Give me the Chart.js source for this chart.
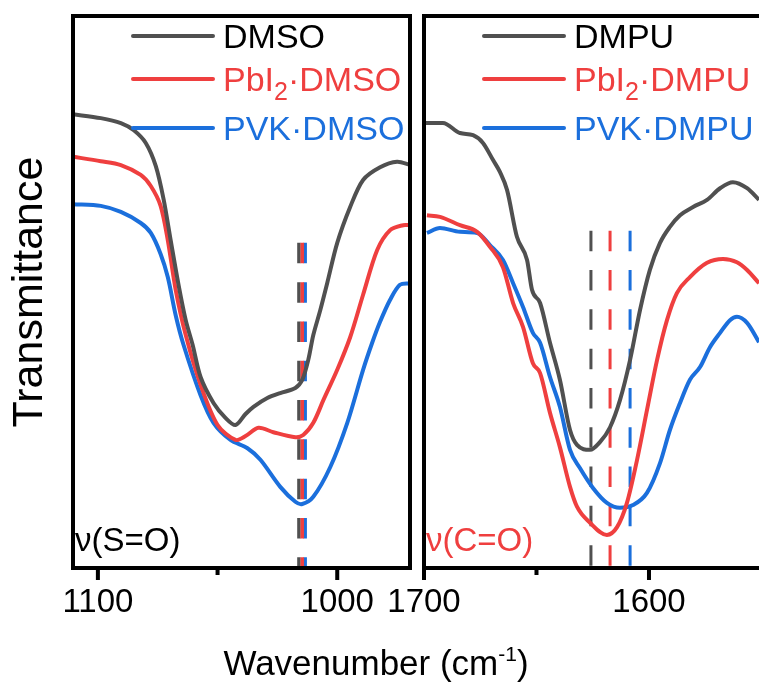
<!DOCTYPE html>
<html><head><meta charset="utf-8">
<script src="https://cdn.jsdelivr.net/npm/chart.js@4.4.1/dist/chart.umd.min.js"></script>
<style>
html,body{margin:0;padding:0;background:#fff;overflow:hidden;width:759px;height:684px;}
canvas{position:absolute;top:0;}
#c1{left:0;}
#c2{left:360px;}
#xt{position:absolute;left:0;width:752px;top:645px;text-align:center;font-family:"Liberation Sans",Arial,sans-serif;font-size:35px;line-height:35px;color:#000;white-space:nowrap;}
#xt span{font-size:21px;position:relative;top:-14px;}
</style></head><body>
<canvas id="c1" width="420" height="684" style="width:420px;height:684px"></canvas>
<canvas id="c2" width="399" height="684" style="width:399px;height:684px"></canvas>
<div id="xt">Wavenumber (cm<span>-1</span>)</div>
<script>
// ---------- data ----------
const dmsoX = [1110.4,1098.8,1090.4,1085.0,1080.0,1075.8,1072.5,1069.6,1066.3,1063.3,1060.4,1057.1,1051.7,1046.7,1042.5,1038.3,1035.0,1029.2,1023.8,1017.5,1014.6,1012.1,1010.0,1007.1,1004.2,1000.0,994.6,989.2,982.1,975.0,969.6];
const dmsoT = [82.2,81.5,80.6,79.3,77.0,72.8,66.7,59.4,51.3,44.9,40.4,34.6,29.9,27.2,25.9,27.9,29.2,30.8,31.7,32.6,34.1,37.7,42.2,46.7,51.6,58.9,65.4,70.3,72.6,73.6,73.0];
const pbi2DmsoX = [1110.4,1098.8,1090.4,1082.1,1077.9,1073.8,1070.8,1067.5,1063.3,1057.1,1050.0,1042.5,1038.3,1032.9,1026.7,1017.5,1014.2,1010.0,1005.8,1000.0,994.6,989.2,983.3,977.9,972.5,969.6];
const pbi2DmsoT = [74.5,73.7,73.0,71.2,69.2,65.6,59.4,50.4,42.2,33.2,25.9,23.2,23.9,25.4,24.6,23.7,24.1,26.3,30.4,35.9,41.8,49.5,57.6,61.2,62.1,62.1];
const pvkDmsoX = [1110.4,1098.8,1090.4,1082.1,1077.9,1073.8,1070.8,1067.5,1064.2,1057.1,1051.7,1044.6,1037.5,1032.1,1023.8,1017.5,1014.6,1010.0,1002.9,995.8,989.2,985.4,982.1,977.9,973.8,969.6];
const pvkDmsoT = [65.9,65.6,64.5,62.5,60.7,56.9,52.7,45.8,40.4,31.3,26.3,23.2,21.7,19.6,14.7,12.0,11.6,12.9,18.3,26.3,35.9,40.8,44.6,48.6,51.3,51.6];

const dmpuX = [1699.1,1691.6,1684.0,1678.2,1673.8,1669.3,1666.2,1663.1,1658.7,1654.2,1652.0,1648.4,1644.0,1639.6,1635.1,1632.0,1626.2,1621.8,1617.3,1612.9,1608.4,1604.0,1599.6,1595.1,1590.7,1586.2,1580.4,1574.2,1568.4,1562.7,1556.4,1551.1];
const dmpuT = [80.6,80.6,78.8,78.4,77.0,73.9,71.7,68.5,60.0,55.8,50.4,48.0,40.8,34.1,25.0,22.3,21.4,22.8,25.5,30.4,37.7,46.7,54.0,58.9,61.8,63.9,65.4,66.7,68.8,69.9,68.8,66.7];
const pbi2DmpuX = [1698.7,1692.9,1684.0,1676.4,1670.7,1664.9,1660.4,1656.0,1651.6,1648.4,1644.0,1639.6,1635.1,1632.0,1626.2,1618.7,1614.2,1609.8,1605.3,1600.9,1596.4,1592.0,1587.6,1581.8,1574.2,1567.1,1560.9,1556.4,1551.1];
const pbi2DmpuT = [63.9,63.6,62.1,60.9,58.2,54.5,48.0,43.7,37.1,35.3,28.1,21.9,14.7,11.1,8.2,6.0,7.4,11.8,19.6,28.6,37.7,44.9,49.8,52.7,55.3,56.0,55.4,54.0,51.6];
const pvkDmpuX = [1698.7,1692.9,1684.0,1676.4,1670.7,1664.9,1660.4,1656.0,1651.6,1648.4,1644.0,1639.6,1635.1,1630.7,1624.9,1618.7,1612.9,1607.1,1600.9,1595.1,1590.7,1586.2,1581.8,1577.3,1572.9,1568.4,1564.0,1560.9,1556.4,1551.1];
const pvkDmpuT = [60.7,61.6,60.9,60.7,58.5,55.8,51.6,47.3,42.6,40.8,34.6,29.2,21.4,18.1,14.5,11.8,10.9,11.4,13.6,19.0,25.0,29.9,34.1,36.4,40.0,42.6,44.9,45.5,44.4,40.9];

// peak positions (dashed markers) and their top value
const dmsoPeaks = [1016.0, 1014.6, 1013.4];
const dmsoPeakTop = 58.9;
const dmpuPeaks = [1625.8, 1617.3, 1608.4];
const dmpuPeakTop = 61.1;

const leftLabels = ['DMSO', 'PbI_2·DMSO', 'PVK·DMSO'];
const rightLabels = ['DMPU', 'PbI_2·DMPU', 'PVK·DMPU'];
const leftMajorTicks = [1100, 1000];
const leftMinorTicks = [1050];
const rightMajorTicks = [1700, 1600];
const rightMinorTicks = [1650];
const leftAnnotation = 'ν(S=O)';
const rightAnnotation = 'ν(C=O)';

// ---------- styles ----------
const FONT = '"Liberation Sans", Arial, sans-serif';
const lineColors = ['#505050', '#ef3f3f', '#1b6fdc'];
const textColors = ['#000000', '#ef3f3f', '#1b6fdc'];
Chart.defaults.font.family = FONT;

const pts = (xs, ys) => xs.map((x, i) => ({x, y: ys[i]}));

const deco = {
  id: 'deco',
  afterDatasetsDraw(chart, args, o) {
    const {ctx, chartArea: a} = chart;
    ctx.save();
    o.labels.forEach((lab, i) => {
      const y = o.legendY[i];
      ctx.strokeStyle = lineColors[i];
      ctx.lineWidth = 4; ctx.lineCap = 'round';
      ctx.beginPath();
      ctx.moveTo(a.left + o.lineX0, y); ctx.lineTo(a.left + o.lineX1, y);
      ctx.stroke();
      ctx.fillStyle = textColors[i];
      ctx.textBaseline = 'alphabetic'; ctx.textAlign = 'left';
      const base = y + 0.358 * o.fontSize;
      let tx = a.left + o.textX;
      lab.split(/_(\d)/).forEach((part, k) => {
        if (k % 2 === 1) {
          ctx.font = `${o.subSize}px ${FONT}`;
          ctx.fillText(part, tx, base + o.subDrop);
        } else {
          ctx.font = `${o.fontSize}px ${FONT}`;
          ctx.fillText(part, tx, base);
        }
        tx += ctx.measureText(part).width;
      });
    });
    ctx.font = `${o.annSize}px ${FONT}`;
    ctx.fillStyle = o.annColor;
    ctx.fillText(o.annotation, a.left + 2, o.annBase);
    ctx.restore();
  },
  afterDraw(chart, args, o) {
    const {ctx, chartArea: a, scales: {x}} = chart;
    ctx.save();
    ctx.strokeStyle = '#000'; ctx.lineWidth = 4; ctx.lineCap = 'butt';
    ctx.beginPath();
    if (o.rightBorder) {
      ctx.rect(a.left, a.top, a.right - a.left, a.bottom - a.top);
    } else {
      ctx.moveTo(a.right + 5, a.top); ctx.lineTo(a.left, a.top);
      ctx.lineTo(a.left, a.bottom); ctx.lineTo(a.right + 5, a.bottom);
    }
    ctx.stroke();
    ctx.lineWidth = 4;
    ctx.beginPath();
    o.major.forEach(v => { const px = x.getPixelForValue(v); ctx.moveTo(px, a.bottom); ctx.lineTo(px, a.bottom + 12); });
    o.minor.forEach(v => { const px = x.getPixelForValue(v); ctx.moveTo(px, a.bottom); ctx.lineTo(px, a.bottom + 7); });
    ctx.stroke();
    ctx.restore();
  }
};

function makePanel(id, cfg) {
  const datasets = [];
  cfg.series.forEach((s, i) => {
    const ds = {
      data: pts(s[0], s[1]), borderColor: lineColors[i], borderWidth: 4,
      pointRadius: 0, fill: false, order: i
    };
    if (cfg.smooth === 'monotone') ds.cubicInterpolationMode = 'monotone';
    else ds.tension = cfg.smooth;
    datasets.push(ds);
  });
  cfg.peaks.forEach((p, i) => {
    datasets.push({
      data: [{x: p, y: cfg.peakTop}, {x: p, y: 0}], borderColor: lineColors[i], borderWidth: cfg.dashWidth,
      borderDash: [20.5, 18.8], borderCapStyle: 'butt', pointRadius: 0, fill: false,
      order: cfg.peakOrder[i]
    });
  });
  return new Chart(document.getElementById(id), {
    type: 'line',
    data: {datasets},
    plugins: [deco],
    options: {
      responsive: false, animation: false,
      layout: {padding: cfg.padding},
      scales: {
        x: {
          type: 'linear', reverse: true, min: cfg.range[0], max: cfg.range[1],
          afterBuildTicks: s => { s.ticks = cfg.major.map(v => ({value: v})); },
          afterFit: s => { s.height = 116; },
          ticks: {font: {size: 33}, color: '#000', padding: 15, autoSkip: false, maxRotation: 0,
                  callback: v => String(v)},
          grid: {display: false, drawTicks: false}, border: {display: false}
        },
        y: cfg.yTitle ? {
          min: 0, max: 100,
          afterFit: s => { s.width = 73; },
          ticks: {display: false}, grid: {display: false}, border: {display: false},
          title: {display: true, text: cfg.yTitle, color: '#000', font: {size: 43}, padding: 4}
        } : {min: 0, max: 100, display: false}
      },
      plugins: {
        legend: {display: false}, tooltip: {enabled: false},
        deco: {
          labels: cfg.labels, legendY: [36, 79, 128], lineX0: 60, lineX1: 140, textX: 150,
          fontSize: 34, subSize: 25, subDrop: 9,
          annotation: cfg.annotation, annColor: cfg.annColor, annBase: 551, annSize: 33,
          major: cfg.major, minor: cfg.minor, rightBorder: cfg.rightBorder
        }
      }
    }
  });
}

makePanel('c1', {
  series: [[dmsoX, dmsoT], [pbi2DmsoX, pbi2DmsoT], [pvkDmsoX, pvkDmsoT]],
  peaks: dmsoPeaks, peakTop: dmsoPeakTop, peakOrder: [12, 10, 11], smooth: 0.3, dashWidth: 3.5,
  labels: leftLabels, range: [969.6, 1110.4], major: leftMajorTicks, minor: leftMinorTicks,
  padding: {left: 0, right: 10, top: 16, bottom: 0}, yTitle: 'Transmittance',
  annotation: leftAnnotation, annColor: '#000', rightBorder: true
});
makePanel('c2', {
  series: [[dmpuX, dmpuT], [pbi2DmpuX, pbi2DmpuT], [pvkDmpuX, pvkDmpuT]],
  peaks: dmpuPeaks, peakTop: dmpuPeakTop, peakOrder: [12, 10, 11], smooth: 'monotone', dashWidth: 3,
  labels: rightLabels, range: [1551.1, 1700], major: rightMajorTicks, minor: rightMinorTicks,
  padding: {left: 64, right: 0, top: 16, bottom: 0}, yTitle: null,
  annotation: rightAnnotation, annColor: '#ef3f3f', rightBorder: false
});
</script>
</body></html>
